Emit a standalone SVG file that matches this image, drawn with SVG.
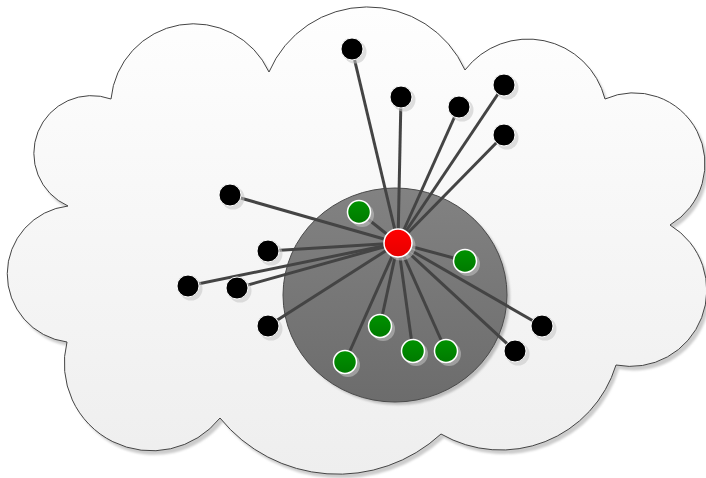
<svg xmlns="http://www.w3.org/2000/svg" width="706" height="478" viewBox="0 0 706 478">
  <defs>
    <linearGradient id="cloudFill" x1="0" y1="0" x2="0" y2="1">
      <stop offset="0" stop-color="#fefefe"/>
      <stop offset="1" stop-color="#eeeeee"/>
    </linearGradient>
    <linearGradient id="coreFill" x1="0" y1="0" x2="0" y2="1">
      <stop offset="0" stop-color="#828282"/>
      <stop offset="1" stop-color="#6c6c6c"/>
    </linearGradient>
    <linearGradient id="redFill" x1="0" y1="0" x2="0" y2="1">
      <stop offset="0" stop-color="#ff0000"/>
      <stop offset="1" stop-color="#e60000"/>
    </linearGradient>
    <linearGradient id="greenFill" x1="0" y1="0" x2="0" y2="1">
      <stop offset="0" stop-color="#009200"/>
      <stop offset="1" stop-color="#007a00"/>
    </linearGradient>
    <filter id="soft" x="-10%" y="-10%" width="120%" height="120%">
      <feGaussianBlur stdDeviation="1.2"/>
    </filter>
    <path id="cloudShape" d="M111,99 A83,83 0 0 1 269,72 A107,107 0 0 1 465,70 A79.5,79.5 0 0 1 605,99 A71,71 0 0 1 670,225 A76.2,76.2 0 0 1 616,365 A120.3,120.3 0 0 1 441,434 A152,152 0 0 1 220,418 A87.4,87.4 0 0 1 67,342 A68.5,68.5 0 0 1 68,206 A57.7,57.7 0 0 1 111,99 Z"/>
  </defs>
  <style>
    .cloud { fill: url(#cloudFill); stroke: #444444; stroke-width: 1; }
    .cloud-shadow { fill: #cccccc; filter: url(#soft); }
    .core { fill: url(#coreFill); stroke: #4a4a4a; stroke-width: 1; }
    .core-shadow { fill: #bdbdbd; filter: url(#soft); }
    .link { stroke: #444444; stroke-width: 3; fill: none; }
    .shadow { fill: #c4c4c4; fill-opacity: 0.55; }
    .hub { fill: url(#redFill); stroke: #ffffff; stroke-width: 1.5; }
    .peer { fill: url(#greenFill); stroke: #ffffff; stroke-width: 1.5; }
    .host { fill: #000000; stroke: #ffffff; stroke-width: 1; }
  </style>

  <!-- cloud background -->
  <g id="cloud">
    <use href="#cloudShape" class="cloud-shadow" transform="translate(3,4)"/>
    <use href="#cloudShape" class="cloud"/>
  </g>

  <!-- inner zone -->
  <g id="core">
    <ellipse class="core-shadow" cx="398" cy="298" rx="112" ry="107"/>
    <ellipse class="core" cx="395" cy="295" rx="112" ry="107"/>
  </g>

  <!-- connectors from the hub -->
  <g id="links">
    <line class="link" x1="398" y1="243" x2="352" y2="49"/>
    <line class="link" x1="398" y1="243" x2="401" y2="97"/>
    <line class="link" x1="398" y1="243" x2="459" y2="107"/>
    <line class="link" x1="398" y1="243" x2="504" y2="85"/>
    <line class="link" x1="398" y1="243" x2="504" y2="135"/>
    <line class="link" x1="398" y1="243" x2="230" y2="195"/>
    <line class="link" x1="398" y1="243" x2="268" y2="251"/>
    <line class="link" x1="398" y1="243" x2="188" y2="286"/>
    <line class="link" x1="398" y1="243" x2="237" y2="288"/>
    <line class="link" x1="398" y1="243" x2="268" y2="326"/>
    <line class="link" x1="398" y1="243" x2="542" y2="326"/>
    <line class="link" x1="398" y1="243" x2="515" y2="351"/>
    <line class="link" x1="398" y1="243" x2="359" y2="212"/>
    <line class="link" x1="398" y1="243" x2="465" y2="261"/>
    <line class="link" x1="398" y1="243" x2="380" y2="326"/>
    <line class="link" x1="398" y1="243" x2="413" y2="351"/>
    <line class="link" x1="398" y1="243" x2="446" y2="351"/>
    <line class="link" x1="398" y1="243" x2="345" y2="362"/>
  </g>

  <!-- outer hosts -->
  <g id="host-1"><circle class="shadow" cx="355" cy="52" r="11.5"/><circle class="host" cx="352" cy="49" r="11"/></g>
  <g id="host-2"><circle class="shadow" cx="404" cy="100" r="11.5"/><circle class="host" cx="401" cy="97" r="11"/></g>
  <g id="host-3"><circle class="shadow" cx="462" cy="110" r="11.5"/><circle class="host" cx="459" cy="107" r="11"/></g>
  <g id="host-4"><circle class="shadow" cx="507" cy="88" r="11.5"/><circle class="host" cx="504" cy="85" r="11"/></g>
  <g id="host-5"><circle class="shadow" cx="507" cy="138" r="11.5"/><circle class="host" cx="504" cy="135" r="11"/></g>
  <g id="host-6"><circle class="shadow" cx="233" cy="198" r="11.5"/><circle class="host" cx="230" cy="195" r="11"/></g>
  <g id="host-7"><circle class="shadow" cx="271" cy="254" r="11.5"/><circle class="host" cx="268" cy="251" r="11"/></g>
  <g id="host-8"><circle class="shadow" cx="191" cy="289" r="11.5"/><circle class="host" cx="188" cy="286" r="11"/></g>
  <g id="host-9"><circle class="shadow" cx="240" cy="291" r="11.5"/><circle class="host" cx="237" cy="288" r="11"/></g>
  <g id="host-10"><circle class="shadow" cx="271" cy="329" r="11.5"/><circle class="host" cx="268" cy="326" r="11"/></g>
  <g id="host-11"><circle class="shadow" cx="545" cy="329" r="11.5"/><circle class="host" cx="542" cy="326" r="11"/></g>
  <g id="host-12"><circle class="shadow" cx="518" cy="354" r="11.5"/><circle class="host" cx="515" cy="351" r="11"/></g>

  <!-- inner peers -->
  <g id="peer-1"><circle class="shadow" cx="362" cy="215" r="12"/><circle class="peer" cx="359" cy="212" r="11.5"/></g>
  <g id="peer-2"><circle class="shadow" cx="468" cy="264" r="12"/><circle class="peer" cx="465" cy="261" r="11.5"/></g>
  <g id="peer-3"><circle class="shadow" cx="383" cy="329" r="12"/><circle class="peer" cx="380" cy="326" r="11.5"/></g>
  <g id="peer-4"><circle class="shadow" cx="416" cy="354" r="12"/><circle class="peer" cx="413" cy="351" r="11.5"/></g>
  <g id="peer-5"><circle class="shadow" cx="449" cy="354" r="12"/><circle class="peer" cx="446" cy="351" r="11.5"/></g>
  <g id="peer-6"><circle class="shadow" cx="348" cy="365" r="12"/><circle class="peer" cx="345" cy="362" r="11.5"/></g>

  <!-- hub -->
  <g id="hub"><circle class="shadow" cx="401" cy="246" r="14.5"/><circle class="hub" cx="398" cy="243" r="14"/></g>
</svg>
